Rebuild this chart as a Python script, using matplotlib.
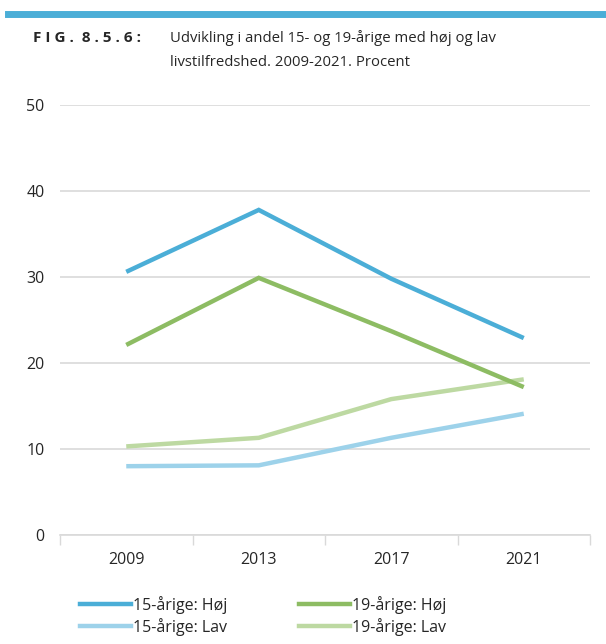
import matplotlib
matplotlib.use("Agg")
import matplotlib.pyplot as plt
from matplotlib.lines import Line2D

plt.rcParams['font.family'] = ['Open Sans', 'DejaVu Sans']

years = ["2009", "2013", "2017", "2021"]
hoj_15 = [30.6, 37.8, 29.8, 22.9]
hoj_19 = [22.1, 29.9, 23.7, 17.2]
lav_15 = [8.0, 8.1, 11.3, 14.1]
lav_19 = [10.3, 11.3, 15.8, 18.1]
yticks = [0, 10, 20, 30, 40, 50]

series = [
    ("15-årige: Høj", hoj_15, "#4BAED7"),
    ("15-årige: Lav", lav_15, "#9DD2EA"),
    ("19-årige: Høj", hoj_19, "#8DBC63"),
    ("19-årige: Lav", lav_19, "#BDD9A2"),
]

fig = plt.figure(figsize=(6.06, 6.44), dpi=100)
ax = fig.add_axes([60/606, 1-535/644, 530/606, 430/644])

x = list(range(len(years)))
for name, vals, col in [series[1], series[3], series[0], series[2]]:
    ax.plot(x, vals, color=col, lw=3.2, solid_capstyle='butt', solid_joinstyle='miter', zorder=3)

ax.set_xlim(-0.5, 3.5)
ax.set_ylim(0, 50)
ax.set_yticks(yticks)
ax.set_yticklabels([str(v) for v in yticks], fontsize=11.5, color="#262626")
ax.set_xticks(x)
ax.set_xticklabels(years, fontsize=11.5, color="#262626")
ax.tick_params(axis='y', length=0, pad=11)
ax.tick_params(axis='x', length=0, pad=12)
ax.set_xticks([-0.5, 0.5, 1.5, 2.5, 3.5], minor=True)
ax.tick_params(axis='x', which='minor', length=7, color="#D9D9D9", width=1)
for s in ['top', 'right', 'left']:
    ax.spines[s].set_visible(False)
ax.spines['bottom'].set_color("#D9D9D9")
ax.spines['bottom'].set_linewidth(1.2)
ax.yaxis.grid(True, color="#D9D9D9", lw=1.2)
ax.set_axisbelow(True)

fig.add_artist(Line2D([8/606, 1.0], [1-14/644, 1-14/644], color="#4BAED7", lw=5, transform=fig.transFigure))

fig.text(33/606, 1-38/644, "F I G .  8 . 5 . 6 :", fontsize=11, fontweight='bold', color="#262626", va='center', ha='left')
fig.text(170/606, 1-38/644, "Udvikling i andel 15- og 19-årige med høj og lav", fontsize=10.7, color="#262626", va='center', ha='left')
fig.text(170/606, 1-62/644, "livstilfredshed. 2009-2021. Procent", fontsize=10.7, color="#262626", va='center', ha='left')

handles = [Line2D([], [], color=c, lw=3.2) for _, _, c in series]
labels = [n for n, _, _ in series]
fig.legend(handles, labels, ncol=2, loc='center left', bbox_to_anchor=(66/606, 1-616/644),
           frameon=False, fontsize=11.5, handlelength=3.2, handletextpad=0.1,
           columnspacing=4.5, labelspacing=0.25, labelcolor="#262626")

fig.savefig("out.png", dpi=100)
